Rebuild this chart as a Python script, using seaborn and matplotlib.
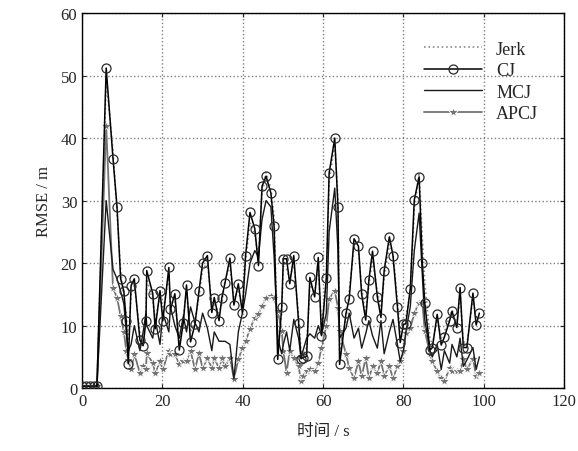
import matplotlib
matplotlib.use("Agg")
import matplotlib.pyplot as plt
import pandas as pd
import seaborn as sns

# time stamps (s)
t = [0, 1, 2, 3, 3.7, 6, 7.7, 8.7, 9.6, 10.4,
     11, 11.5, 12.2, 13, 14.4, 15.2, 15.9, 16.1, 17.6, 18.2,
     19.4, 20.1, 21.6, 22, 23.1, 24.2, 25.2, 26, 27, 28.1,
     29.1, 30, 31.2, 32.3, 32.9, 34.1, 34.8, 35.6, 36.8, 37.8,
     38.9, 39.9, 40.7, 41.8, 43, 43.9, 44.8, 45.8, 47, 47.8,
     48.7, 49.7, 50.1, 50.9, 51.7, 52.7, 53.9, 54.5, 55, 55.9,
     56.7, 57.9, 58.8, 59.6, 60.8, 61.5, 62.9, 63.7, 64.1, 65.7,
     66.5, 67.7, 68.8, 69.6, 70.6, 71.4, 72.3, 73.5, 74.4, 75.2,
     76.5, 77.4, 78.5, 79.2, 80, 80.6, 81.7, 82.7, 83.9, 84.7,
     85.3, 86.6, 87.2, 88.4, 89.4, 90.2, 91.5, 92.1, 93.3, 94.1,
     94.9, 95.8, 97.3, 98.1, 98.9]

jerk = [0.3, 0.3, 0.3, 0.3, 0.3, 49.5, 38.0, 28.0, 19.0, 14.0,
        12.0, 6.5, 15.0, 16.5, 9.0, 7.5, 12.0, 17.5, 14.0, 11.0,
        14.5, 12.0, 18.0, 13.5, 14.0, 7.5, 11.5, 15.5, 9.0, 11.0,
        14.5, 19.0, 20.0, 13.5, 13.5, 12.0, 13.5, 17.5, 19.5, 14.5,
        15.5, 13.0, 20.0, 26.5, 24.5, 21.0, 31.0, 34.5, 32.0, 27.5,
        7.0, 12.0, 19.5, 19.0, 17.5, 20.0, 11.5, 6.0, 5.5, 6.5,
        16.5, 15.5, 19.5, 10.0, 16.5, 33.0, 39.0, 30.5, 6.0, 11.0,
        15.5, 22.5, 22.0, 16.0, 12.0, 16.5, 20.5, 15.5, 12.5, 17.5,
        23.0, 21.5, 14.0, 9.0, 10.5, 11.5, 15.0, 28.5, 34.5, 24.0,
        17.0, 8.0, 7.0, 11.0, 8.0, 9.0, 11.5, 12.5, 10.5, 15.0,
        7.5, 7.0, 14.5, 11.0, 11.5]

cj = [0.3, 0.3, 0.3, 0.3, 0.3, 51.2, 36.7, 29.0, 17.5, 15.5,
      10.7, 3.9, 16.4, 17.5, 7.7, 6.8, 10.8, 18.8, 15.1, 9.5,
      15.6, 10.8, 19.3, 12.6, 15.1, 6.1, 10.5, 16.5, 7.4, 10.2,
      15.5, 20.0, 21.2, 12.1, 14.5, 10.8, 14.5, 16.9, 20.8, 13.3,
      16.7, 12.1, 21.2, 28.1, 25.5, 19.6, 32.3, 33.9, 31.2, 25.9,
      4.6, 13.0, 20.7, 20.7, 16.7, 21.2, 10.5, 4.7, 4.9, 5.1,
      17.7, 14.6, 20.9, 8.4, 17.6, 34.4, 40.0, 29.0, 3.8, 12.0,
      14.3, 23.9, 22.7, 15.0, 10.9, 17.3, 21.9, 14.6, 11.3, 18.8,
      24.2, 21.2, 13.0, 7.3, 10.2, 10.3, 15.9, 30.1, 33.8, 20.0,
      13.7, 6.1, 6.5, 11.8, 6.9, 8.2, 10.8, 12.3, 9.7, 16.1,
      6.5, 6.5, 15.2, 10.1, 12.0]

mcj = [0.3, 0.3, 0.3, 0.3, 0.3, 30, 19, 17.5, 15.5, 13.5,
       9, 6, 7, 10, 6, 9, 12, 10, 8, 11,
       7, 12, 9, 13, 10, 8, 11.5, 9, 13, 10.5,
       9, 12, 9.6, 6, 9, 7.5, 7.5, 7.5, 7, 1.5,
       9, 12, 15, 20, 22, 21, 27, 30, 29, 21,
       8, 5.5, 7, 9, 6, 11, 8, 5, 6, 8,
       8.7, 8, 10, 8.5, 12, 25, 32, 22, 8, 9.6,
       12, 8, 9.6, 6.4, 8.7, 10.8, 8.4, 6.4, 10.8, 5.5,
       9, 11, 7, 4.3, 6, 9, 13, 22, 28, 18,
       11, 6, 5, 7, 3, 6, 4, 7, 5, 8,
       3.5, 4.5, 6.5, 3, 5]

apcj = [0.3, 0.3, 0.3, 0.3, 0.3, 42, 16, 14.5, 11.5, 9,
        6, 4.5, 3, 5.5, 2.4, 3.5, 3, 5.6, 4, 2.4,
        4.3, 3, 6, 5.5, 5.5, 3.8, 4.3, 4.3, 6, 3,
        5.6, 3.2, 4.8, 3.2, 4.8, 3.2, 4.8, 3.5, 4.8, 1.5,
        4.6, 6.4, 7.5, 9.5, 11.3, 11.9, 13.2, 14.5, 14.8, 14.5,
        12.4, 9.2, 6, 2.5, 6, 4.8, 3.5, 1.1, 2, 2.7,
        3, 2.7, 4, 6.5, 10, 14.3, 15.6, 12.9, 9.2, 5.5,
        3.2, 1.6, 4.3, 1.9, 4.8, 1.6, 3.5, 2.5, 4.3, 2,
        3.5, 1.6, 3.5, 4.3, 6, 8.8, 9.6, 12, 13.7, 13.7,
        9.2, 5.5, 4.3, 2.7, 1.6, 1.1, 3.2, 2.7, 2.7, 2.7,
        4.7, 3, 4.7, 1.9, 2.5]

df = pd.DataFrame({"t": t, "Jerk": jerk, "CJ": cj, "MCJ": mcj, "APCJ": apcj})

sns.set_theme(style="ticks")
plt.rcParams["font.family"] = ["Liberation Serif", "Noto Sans CJK SC"]

fig = plt.figure(figsize=(5.78, 4.52), dpi=100)
ax = fig.add_axes([0.142, 0.139, 0.834, 0.830])

sns.lineplot(data=df, x="t", y="Jerk", ax=ax, color="#8c8c8c", linestyle=":",
             linewidth=1.2, label="Jerk", zorder=3)
sns.lineplot(data=df, x="t", y="CJ", ax=ax, color="black", linewidth=1.1,
             marker="o", markersize=6.5, markerfacecolor="none",
             markeredgecolor="#2a2a2a", markeredgewidth=0.9, label="CJ", zorder=5)
sns.lineplot(data=df, x="t", y="MCJ", ax=ax, color="#1a1a1a", linewidth=1.0,
             label="MCJ", zorder=4)
sns.lineplot(data=df, x="t", y="APCJ", ax=ax, color="#737373", linewidth=1.3,
             marker="*", markersize=7.5, markeredgewidth=0.6, label="APCJ", zorder=2)

ax.set_xlim(0, 120)
ax.set_ylim(0, 60)
ax.set_xticks(range(0, 121, 20))
ax.set_yticks(range(0, 61, 10))
ax.grid(True, linestyle=":", color="#808080", linewidth=1.0)
ax.tick_params(direction="in", top=True, right=True, labelsize=12, length=3, width=0.8)
for s in ax.spines.values():
    s.set_linewidth(1.0)
    s.set_color("black")

ax.set_xlabel("时间 / s", fontsize=12, labelpad=10)
ax.set_ylabel("RMSE / m", fontsize=12, labelpad=6)

ax.legend(loc="upper right", bbox_to_anchor=(0.98, 0.97), frameon=False,
          fontsize=13, handlelength=3.2, labelspacing=0.25, handletextpad=0.8)

fig.savefig("out.png", dpi=100)
